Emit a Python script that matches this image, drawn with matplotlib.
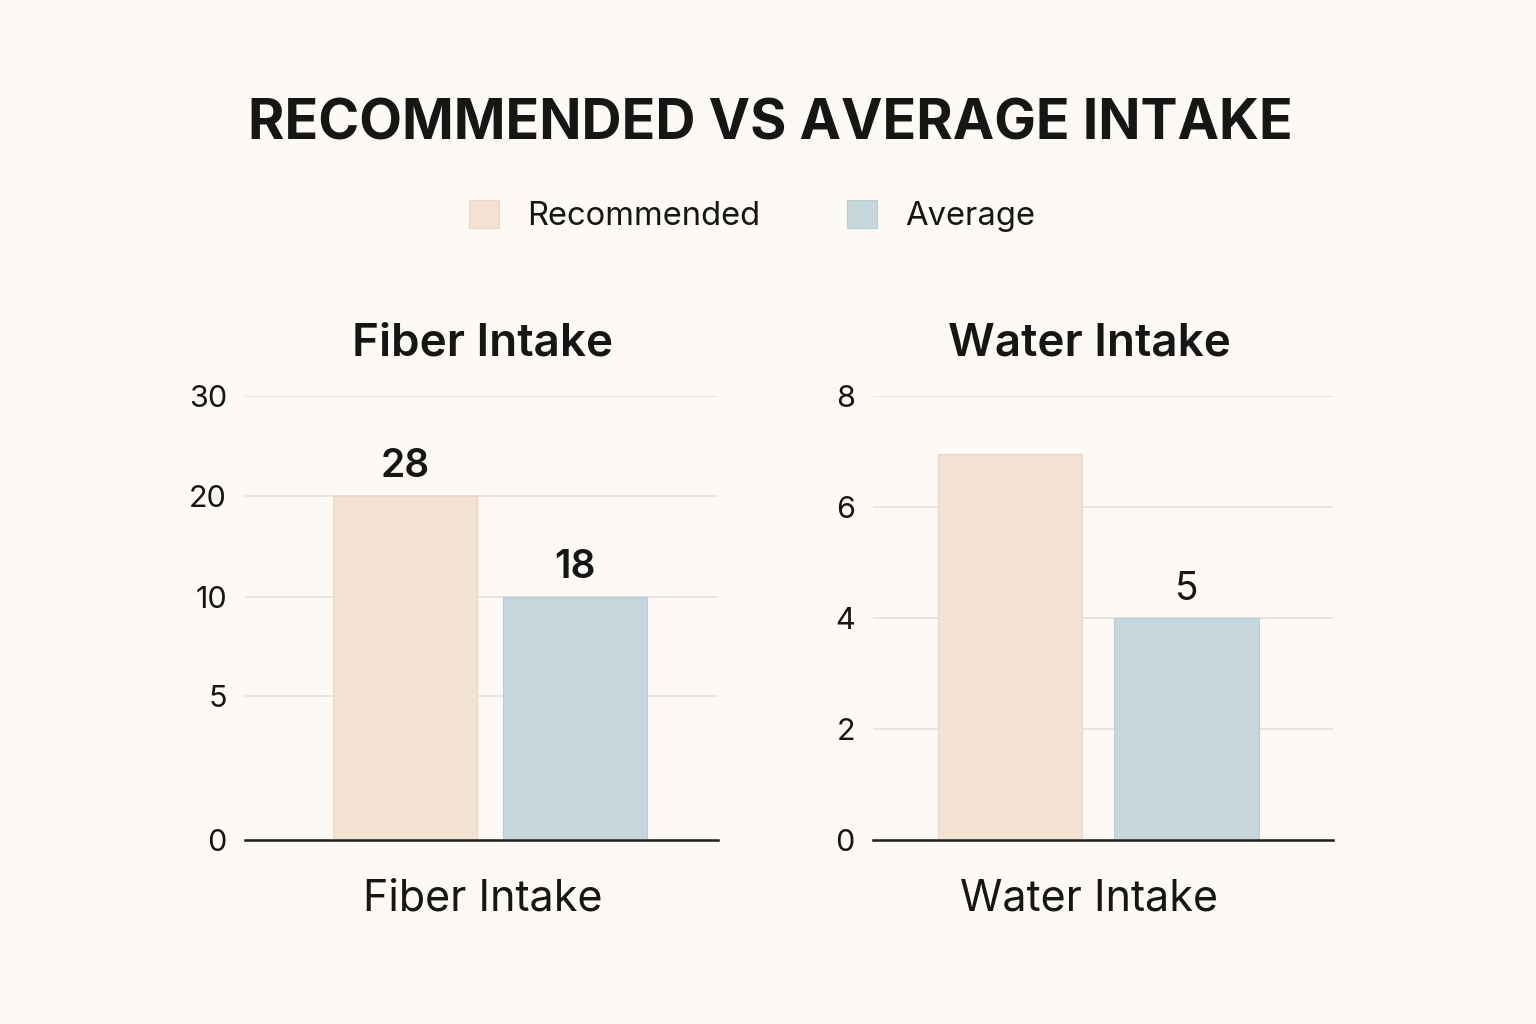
import numpy as np
import matplotlib
matplotlib.use("Agg")
import matplotlib.pyplot as plt
from matplotlib.patches import Patch

# data
series = ["Recommended", "Average"]
fiber_bars = [20, 10]          # bar tops as drawn on the fiber axis
fiber_labels = ["28", "18"]    # numbers printed above the bars
fiber_ticks = [0, 5, 10, 20, 30]
water_bars = [6.95, 4]
water_labels = ["", "5"]
water_ticks = [0, 2, 4, 6, 8]

BG = "#FDFAF5"
COLORS = ["#F3E1D1", "#C6D8DE"]
EDGES = ["#EBD6C4", "#B9CDD4"]
TEXT = "#161616"
GRID = "#E3E1DC"

plt.rcParams["font.family"] = ["Inter", "DejaVu Sans"]

# fiber axis is uneven: 0-5 takes more room than the other steps
fib_vals = np.array([0, 5, 10, 20, 30], dtype=float)
fib_pos = np.array([0, 144, 243, 344, 444], dtype=float)


def fib_fwd(v):
    v = np.asarray(v, dtype=float)
    out = np.interp(v, fib_vals, fib_pos)
    out = np.where(v > 30, 444 + (v - 30) * 10.0, out)
    out = np.where(v < 0, v * 28.8, out)
    return out


def fib_inv(p):
    p = np.asarray(p, dtype=float)
    out = np.interp(p, fib_pos, fib_vals)
    out = np.where(p > 444, 30 + (p - 444) / 10.0, out)
    out = np.where(p < 0, p / 28.8, out)
    return out


def style_panel(ax, ticks, xlim):
    ax.set_facecolor(BG)
    ax.set_xlim(*xlim)
    ax.set_ylim(ticks[0], ticks[-1])
    ax.set_yticks(ticks)
    ax.set_yticklabels([str(t) for t in ticks])
    ax.grid(axis="y", color=GRID, linewidth=1.2)
    ax.set_axisbelow(True)
    for side in ["top", "right", "left"]:
        ax.spines[side].set_visible(False)
    ax.spines["bottom"].set_color("#1E1E1E")
    ax.spines["bottom"].set_linewidth(1.8)
    ax.tick_params(axis="y", length=0, pad=13, labelsize=22, labelcolor=TEXT)
    ax.tick_params(axis="x", length=0)
    ax.set_xticks([])


fig = plt.figure(figsize=(15.36, 10.24), dpi=100, facecolor=BG)

# left panel
ax1 = fig.add_axes([245 / 1536, 184 / 1024, 473 / 1536, 444 / 1024])
ax1.set_yscale("function", functions=(fib_fwd, fib_inv))
style_panel(ax1, fiber_ticks, (-0.941, 1.841))
b1 = ax1.bar(np.arange(2), fiber_bars, width=0.847, color=COLORS,
             edgecolor=EDGES, linewidth=0.8, zorder=2)
ax1.bar_label(b1, labels=fiber_labels, padding=8, fontsize=28,
              fontweight="semibold", color=TEXT)

# right panel
ax2 = fig.add_axes([873 / 1536, 184 / 1024, 460 / 1536, 444 / 1024])
style_panel(ax2, water_ticks, (-0.776, 1.830))
b2 = ax2.bar(np.arange(2), water_bars, width=0.816, color=COLORS,
             edgecolor=EDGES, linewidth=0.8, zorder=2)
ax2.bar_label(b2, labels=water_labels, padding=7, fontsize=28,
              color=TEXT)

# panel titles and x labels (water ones sit a bit left of the axes centre)
for ax, name, cx in [(ax1, "Fiber Intake", 483), (ax2, "Water Intake", 1089)]:
    left = ax.get_position().x0 * 1536
    width = ax.get_position().width * 1536
    xfrac = (cx - left) / width
    ax.set_title(name, fontsize=33, fontweight="semibold", color=TEXT,
                 pad=29, x=xfrac)
    ax.set_xlabel(name, fontsize=31, color=TEXT)
    ax.xaxis.set_label_coords(xfrac, -0.087, transform=ax.transAxes)
    ax.xaxis.label.set_va("top")

fig.text(770 / 1536, 1 - 124 / 1024, "RECOMMENDED VS AVERAGE INTAKE",
         ha="center", va="center", fontsize=40, fontweight="bold", color=TEXT)

handles = [Patch(facecolor=c, edgecolor=e, linewidth=0.8) for c, e in zip(COLORS, EDGES)]
fig.legend(handles, series, loc="center", bbox_to_anchor=(752 / 1536, 1 - 216 / 1024),
           ncol=2, frameon=False, fontsize=23.6, handlelength=0.92, handleheight=0.95,
           handletextpad=0.85, columnspacing=2.65, labelcolor=TEXT)

fig.savefig("out.png", dpi=100, facecolor=BG)
